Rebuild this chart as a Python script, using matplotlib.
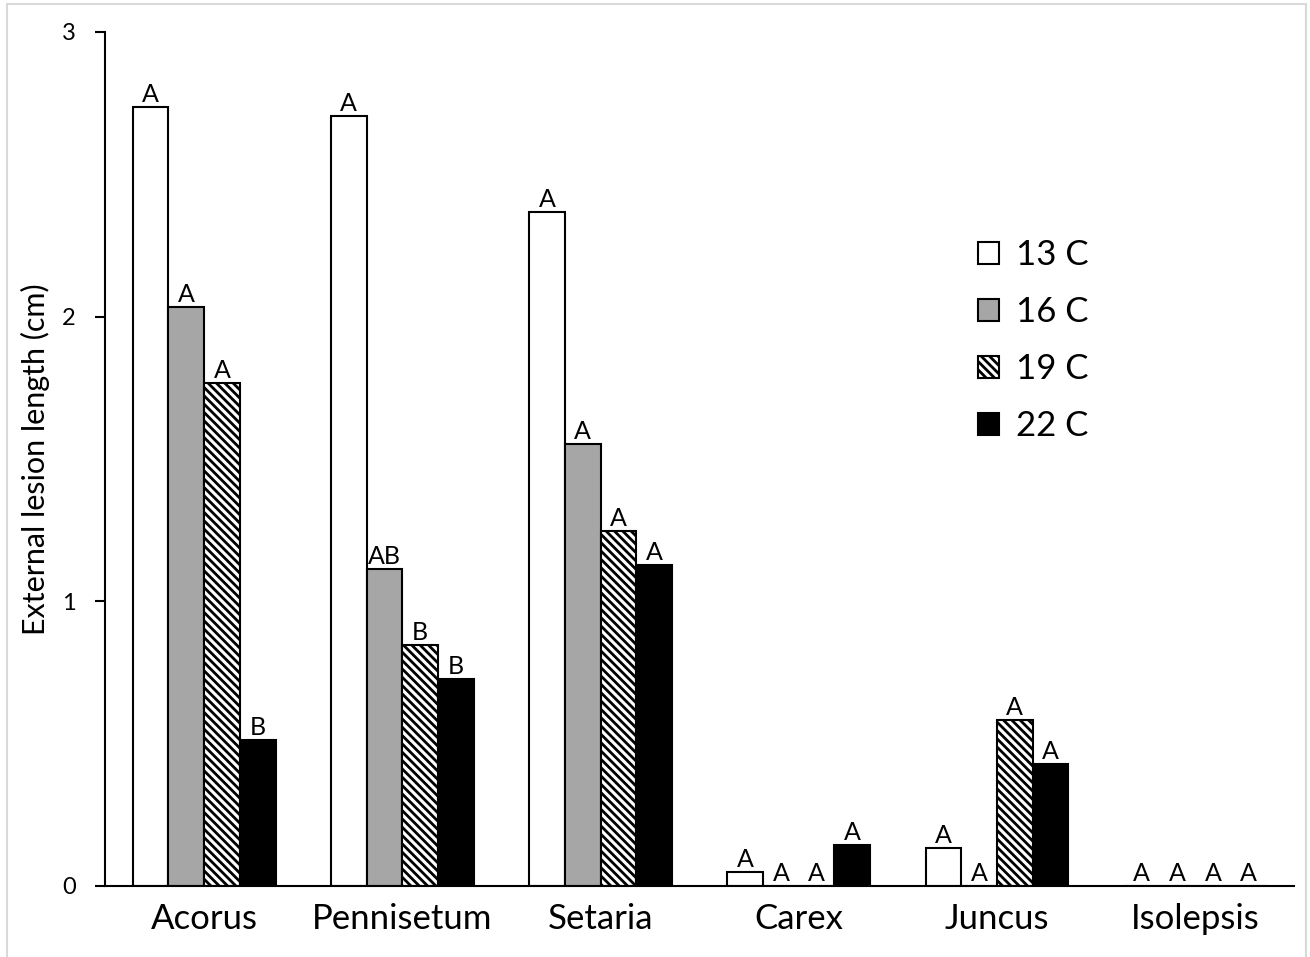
import numpy as np
import matplotlib.pyplot as plt
from matplotlib.patches import Rectangle

plt.rcParams['font.family'] = ['Lato', 'DejaVu Sans']
plt.rcParams['hatch.linewidth'] = 2.0

species = ['Acorus', 'Pennisetum', 'Setaria', 'Carex', 'Juncus', 'Isolepsis']
temps = ['13 C', '16 C', '19 C', '22 C']

t13 = [2.736, 2.705, 2.367, 0.049, 0.133, 0.0]
t16 = [2.034, 1.113, 1.552, 0.0, 0.0, 0.0]
t19 = [1.767, 0.846, 1.247, 0.0, 0.583, 0.0]
t22 = [0.513, 0.727, 1.127, 0.144, 0.428, 0.0]

lab13 = ['A', 'A', 'A', 'A', 'A', 'A']
lab16 = ['A', 'AB', 'A', 'A', 'A', 'A']
lab19 = ['A', 'B', 'A', 'A', 'A', 'A']
lab22 = ['B', 'B', 'A', 'A', 'A', 'A']

values = [t13, t16, t19, t22]
letters = [lab13, lab16, lab19, lab22]
faces = ['white', '#a6a6a6', 'white', 'black']
hatches = [None, None, '\\\\\\\\', None]

fig = plt.figure(figsize=(13.1, 9.57), dpi=100)
fig.patches.append(Rectangle((0.005, -0.01), 0.992, 1.006, transform=fig.transFigure,
                             fill=False, edgecolor='#d9d9d9', linewidth=1.5))
ax = fig.add_axes([0.0802, 0.0742, 0.9078, 0.8924])

x = np.arange(len(species))
w = 0.18
for i in range(4):
    pos = x + (i - 1.5) * w
    ax.bar(pos, values[i], w, color=faces[i], edgecolor='black', linewidth=1.5,
           hatch=hatches[i], label=temps[i])
    for px, v, t in zip(pos, values[i], letters[i]):
        ax.text(px, v + 0.005, t, ha='center', va='bottom', fontsize=18)

ax.set_xlim(-0.5, 5.5)
ax.set_ylim(0, 3)
ax.set_yticks([0, 1, 2, 3])
ax.set_xticks(x)
ax.set_xticklabels(species, fontsize=25)
ax.tick_params(axis='x', length=0, pad=12)
ax.tick_params(axis='y', labelsize=17, length=7, width=1.5, pad=14)
ax.set_ylabel('External lesion length (cm)', fontsize=22, labelpad=9)
for s in ['top', 'right']:
    ax.spines[s].set_visible(False)
ax.spines['left'].set_linewidth(1.5)
ax.spines['bottom'].set_linewidth(1.5)

ax.legend(loc='upper left', bbox_to_anchor=(0.734, 0.757), frameon=False, fontsize=25,
          handlelength=0.6, handleheight=0.6, handletextpad=0.5, labelspacing=0.72,
          borderpad=0, borderaxespad=0)

fig.savefig('out.png', dpi=100)
